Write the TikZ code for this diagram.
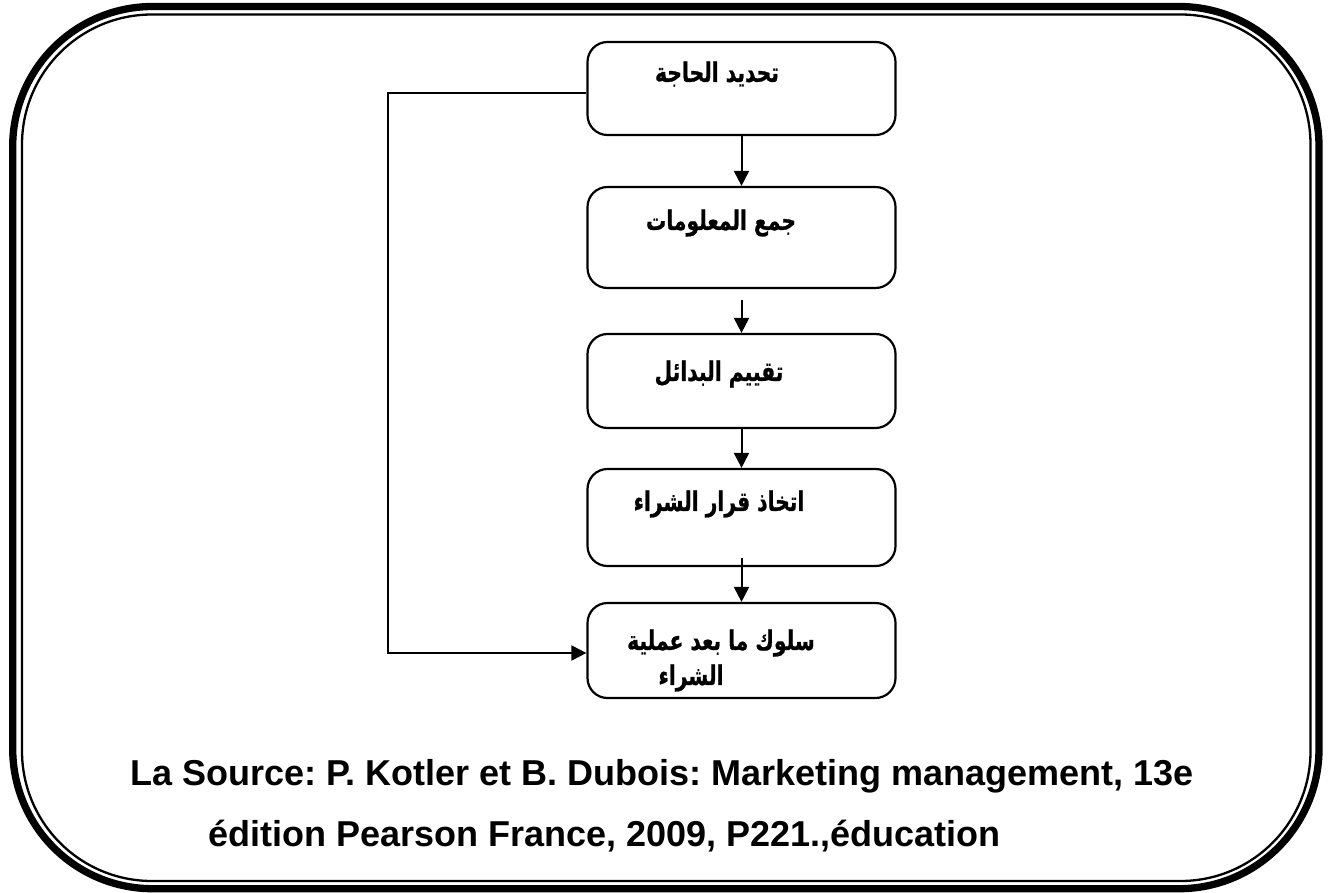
\documentclass[tikz,border=0pt]{standalone}
\usepackage{fontspec}
\setmainfont{Liberation Sans}
\newfontfamily\arabicfont[Script=Arabic,FakeStretch=0.75,FakeBold=0.8]{DejaVu Sans}
\TeXXeTstate=1
\frenchspacing
\usetikzlibrary{arrows.meta,calc}
\tikzset{
  stepbox/.style={draw=black, line width=2.2pt, rounded corners=20pt, minimum width=308pt, minimum height=#1, inner sep=0pt},
  atext/.style={inner sep=0pt, font=\arabicfont\bfseries\fontsize{27}{31}\selectfont},
  arr/.style={draw=black, line width=2pt, -{Triangle[length=15pt,width=15pt]}},
  srcline/.style={inner sep=0pt, anchor=base west, font=\bfseries\fontsize{36}{40}\selectfont},
  outerframe/.style={draw=black, line width=7.3pt, rounded corners=140pt},
  innerframe/.style={draw=black, line width=2.3pt, rounded corners=130pt}
}
\begin{document}
\begin{tikzpicture}[x=1pt, y=-1pt]
\useasboundingbox (0,0) rectangle (1332,893);
\draw[outerframe] (12.7,6.5) rectangle (1319,888.7);
\draw[innerframe] (22,14.5) rectangle (1310.5,881);

\node[stepbox=93pt] (b1) at (741.5,88.5) {};
\node[stepbox=101pt] (b2) at (741.5,237.5) {};
\node[stepbox=94pt] (b3) at (741.5,381) {};
\node[stepbox=97pt] (b4) at (741.5,517.5) {};
\node[stepbox=95pt] (b5) at (741.5,650.5) {};

\node[atext] (t1) at (717,74) {\beginR تحديد الحاجة\endR};
\node[atext] (t2) at (721,223) {\beginR جمع المعلومات\endR};
\node[atext] (t3) at (719,374) {\beginR تقييم البدائل\endR};
\node[atext] (t4) at (719,504) {\beginR اتخاذ قرار الشراء\endR};
\node[atext] (t5a) at (721,643) {\beginR سلوك ما بعد عملية\endR};
\node[atext] (t5b) at (691,678) {\beginR الشراء\endR};

\draw[arr] (b1.south) -- (b2.north);
\draw[arr] ($(b2.south)+(0,11)$) -- (b3.north);
\draw[arr] (b3.south) -- (b4.north);
\draw[arr] ($(b4.south)+(0,-9)$) -- (b5.north);
\draw[arr] ($(b1.west)+(0,5)$) -- ++(-198,0) |- ($(b5.west)+(0,2.5)$);

\node[srcline] (s1) at (130,785) {La Source: P. Kotler et B. Dubois: Marketing management, 13e};
\node[srcline] (s2) at (208,846) {édition Pearson France, 2009, P221.,éducation};
\end{tikzpicture}
\end{document}
